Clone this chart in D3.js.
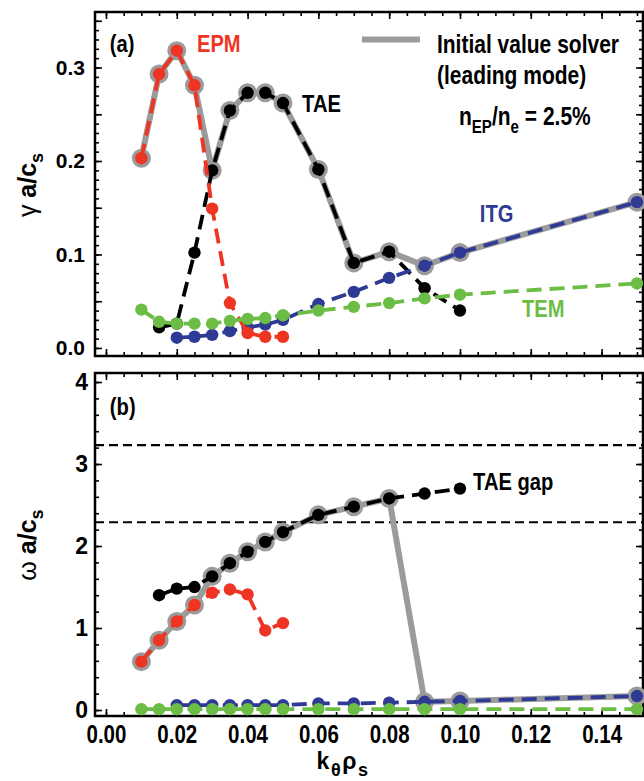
<!DOCTYPE html>
<html>
<head>
<meta charset="utf-8">
<script src="https://cdn.jsdelivr.net/npm/d3@7"></script>
<style>
  body { margin: 0; background: #fff; }
  svg { display: block; }
  text { font-family: "Liberation Sans", Arial, Helvetica, sans-serif; font-weight: bold; }
</style>
</head>
<body>
<svg id="chart" width="644" height="781"></svg>
<script>
// k_theta rho_s values for each branch
const kEPM = [0.01, 0.015, 0.02, 0.025, 0.03, 0.035, 0.04, 0.045, 0.05];
const kTAE = [0.015, 0.02, 0.025, 0.03, 0.035, 0.04, 0.045, 0.05, 0.06, 0.07, 0.08, 0.09, 0.10];
const kITG = [0.02, 0.025, 0.03, 0.035, 0.04, 0.045, 0.05, 0.06, 0.07, 0.08, 0.09, 0.10, 0.15];
const kTEM = [0.01, 0.015, 0.02, 0.025, 0.03, 0.035, 0.04, 0.045, 0.05, 0.06, 0.07, 0.08, 0.09, 0.10, 0.15];

// growth rate gamma a/c_s (panel a)
const gammaEPM = [0.203, 0.293, 0.318, 0.281, 0.149, 0.048, 0.016, 0.012, 0.012];
const gammaTAE = [0.022, 0.026, 0.102, 0.190, 0.254, 0.273, 0.273, 0.262, 0.191, 0.091, 0.103, 0.064, 0.040];
const gammaITG = [0.011, 0.012, 0.014, 0.018, 0.022, 0.025, 0.030, 0.047, 0.060, 0.075, 0.088, 0.102, 0.156];
const gammaTEM = [0.041, 0.028, 0.026, 0.026, 0.026, 0.029, 0.031, 0.032, 0.035, 0.040, 0.044, 0.048, 0.053, 0.057, 0.069];

// real frequency omega a/c_s (panel b)
const omegaEPM = [0.59, 0.85, 1.08, 1.28, 1.43, 1.47, 1.41, 0.97, 1.06];
const omegaTAE = [1.40, 1.48, 1.50, 1.63, 1.79, 1.93, 2.05, 2.17, 2.38, 2.48, 2.58, 2.64, 2.70];
const omegaITG = [0.06, 0.06, 0.06, 0.06, 0.06, 0.06, 0.06, 0.08, 0.08, 0.09, 0.10, 0.11, 0.17];
const omegaTEM = [0.01, 0.01, 0.01, 0.01, 0.01, 0.01, 0.01, 0.01, 0.01, 0.01, 0.01, 0.01, 0.01, 0.01, 0.01];

// which k values the initial value solver picks from each branch (leading mode)
const leadEPM = [0.01, 0.015, 0.02, 0.025];
const leadTAE = [0.03, 0.035, 0.04, 0.045, 0.05, 0.06, 0.07, 0.08];
const leadITG = [0.09, 0.10, 0.15];

// TAE gap boundaries (panel b)
const gapEdges = [2.29, 3.23];

const xTicks = [0, 0.02, 0.04, 0.06, 0.08, 0.10, 0.12, 0.14];
const yTicksA = [0, 0.1, 0.2, 0.3];
const yTicksB = [0, 1, 2, 3, 4];

const COLORS = { EPM: '#ee3524', TAE: '#000000', ITG: '#2e3a94', TEM: '#6cbd45' };
const GRAY = '#9b9b9b';
const SQUEEZE = 0.84; // the figure uses a condensed face

const svg = d3.select('#chart');

const x = d3.scaleLinear().domain([-0.0031, 0.1517]).range([95, 643]);
const yA = d3.scaleLinear().domain([-0.0086, 0.3594]).range([356, 12]);
const yB = d3.scaleLinear().domain([-0.073, 4.11]).range([716, 373]);

const series = (ks, vs) => ks.map((k, i) => [k, vs[i]]);

const A = {
    EPM: series(kEPM, gammaEPM), TAE: series(kTAE, gammaTAE),
    ITG: series(kITG, gammaITG), TEM: series(kTEM, gammaTEM)
};
const B = {
    EPM: series(kEPM, omegaEPM), TAE: series(kTAE, omegaTAE),
    ITG: series(kITG, omegaITG), TEM: series(kTEM, omegaTEM)
};

function leading(set) {
    const pick = (pts, ks) => pts.filter(p => ks.some(k => Math.abs(k - p[0]) < 1e-9));
    return [...pick(set.EPM, leadEPM), ...pick(set.TAE, leadTAE), ...pick(set.ITG, leadITG)];
}

function range(a, b, step) {
    const out = [];
    for (let v = a; v <= b + 1e-9; v += step) out.push(+v.toFixed(6));
    return out;
}

// compress text horizontally around its anchor point
function squeeze(sel, k) {
    sel.each(function () {
        const t = d3.select(this);
        const tx = +t.attr('x') || 0, ty = +t.attr('y') || 0;
        const prev = t.attr('transform') || '';
        t.attr('x', 0).attr('y', 0)
            .attr('transform', `${prev} translate(${tx},${ty}) scale(${k},1)`);
    });
}

function frameAndTicks(y, minorStep, majorStep, labels, showX) {
    const [y0, y1] = y.domain();
    const g = svg.append('g');

    const mk = (axisFn, scale, values, len, pos) => {
        const a = axisFn(scale).tickValues(values).tickSizeInner(-len).tickSizeOuter(0).tickFormat('');
        const gg = g.append('g').attr('transform', pos).call(a);
        gg.select('.domain').remove();
        gg.selectAll('line').attr('stroke', '#000').attr('stroke-width', 1.6);
    };

    const xMinor = range(0, 0.15, 0.005);
    const xMajor = range(0, 0.14, 0.02);
    const yMinor = range(Math.ceil(y0 / minorStep) * minorStep, y1, minorStep);
    const yMajor = range(Math.ceil(y0 / majorStep) * majorStep, y1, majorStep);

    const bottom = y.range()[0], top = y.range()[1];
    const left = x.range()[0], right = x.range()[1];

    mk(d3.axisBottom, x, xMinor, 4, `translate(0,${bottom})`);
    mk(d3.axisBottom, x, xMajor, 7, `translate(0,${bottom})`);
    mk(d3.axisTop, x, xMinor, 4, `translate(0,${top})`);
    mk(d3.axisTop, x, xMajor, 7, `translate(0,${top})`);
    mk(d3.axisLeft, y, yMinor, 4, `translate(${left},0)`);
    mk(d3.axisLeft, y, yMajor, 7, `translate(${left},0)`);
    mk(d3.axisRight, y, yMinor, 4, `translate(${right},0)`);
    mk(d3.axisRight, y, yMajor, 7, `translate(${right},0)`);

    // tick labels on the left
    const lab = g.append('g').attr('transform', `translate(${left},0)`)
        .call(d3.axisLeft(y).tickValues(labels.values).tickSize(0).tickPadding(labels.pad)
            .tickFormat(labels.fmt));
    lab.select('.domain').remove();
    lab.selectAll('text').attr('font-size', labels.size).attr('fill', '#000')
        .style('font-family', '"Liberation Sans", Arial, sans-serif').style('font-weight', 'bold');
    squeeze(lab.selectAll('text'), labels.squeeze);

    if (showX) {
        const xl = g.append('g').attr('transform', `translate(0,${bottom})`)
            .call(d3.axisBottom(x).tickValues(xTicks).tickSize(0).tickPadding(9)
                .tickFormat(d3.format('.2f')));
        xl.select('.domain').remove();
        xl.selectAll('text').attr('font-size', 25).attr('fill', '#000')
            .style('font-family', '"Liberation Sans", Arial, sans-serif').style('font-weight', 'bold');
        squeeze(xl.selectAll('text'), 0.82);
    }

    g.append('rect')
        .attr('x', left).attr('y', top)
        .attr('width', right - left).attr('height', bottom - top)
        .attr('fill', 'none').attr('stroke', '#000').attr('stroke-width', 2.5);
}

function drawPanel(set, y) {
    const g = svg.append('g');
    const line = d3.line().x(d => x(d[0])).y(d => y(d[1]));
    const lead = leading(set);

    // leading mode path underneath
    g.append('path').datum(lead).attr('d', line)
        .attr('fill', 'none').attr('stroke', GRAY).attr('stroke-width', 6)
        .attr('stroke-linejoin', 'round');
    g.selectAll('circle.ring').data(lead).join('circle').attr('class', 'ring')
        .attr('cx', d => x(d[0])).attr('cy', d => y(d[1])).attr('r', 9.5).attr('fill', GRAY);

    ['TAE', 'ITG', 'EPM', 'TEM'].forEach(name => {
        const pts = set[name];
        g.append('path').datum(pts).attr('d', line)
            .attr('fill', 'none').attr('stroke', COLORS[name]).attr('stroke-width', 3.8)
            .attr('stroke-dasharray', '15,8');
        g.selectAll(`circle.${name}`).data(pts).join('circle').attr('class', name)
            .attr('cx', d => x(d[0])).attr('cy', d => y(d[1])).attr('r', 6.2)
            .attr('fill', COLORS[name]);
    });
    return g;
}

function label(txt, px, py, color, size) {
    const t = svg.append('text').attr('x', px).attr('y', py)
        .attr('fill', color || '#000').attr('font-size', size || 24).text(txt);
    return t;
}

// ---- panel (a)
frameAndTicks(yA, 0.01, 0.05, { values: yTicksA, pad: 10, size: 21, squeeze: 1, fmt: d3.format('.1f') }, false);
drawPanel(A, yA);

const annotations = [];
annotations.push(label('(a)', x(0.0011), yA(0.3166)));
annotations.push(label('EPM', x(0.0257), yA(0.3166), COLORS.EPM));
annotations.push(label('TAE', x(0.0554), yA(0.252)));
annotations.push(label('ITG', x(0.1056), yA(0.135), COLORS.ITG));
annotations.push(label('TEM', x(0.1175), yA(0.033), COLORS.TEM));

svg.append('line')
    .attr('x1', x(0.0723)).attr('x2', x(0.0887))
    .attr('y1', yA(0.330)).attr('y2', yA(0.330))
    .attr('stroke', GRAY).attr('stroke-width', 6);
annotations.push(label('Initial value solver', x(0.0935), yA(0.3155), '#000', 25));
annotations.push(label('(leading mode)', x(0.0935), yA(0.282), '#000', 25));

const ne = label('', x(0.0997), yA(0.2385), '#000', 25);
ne.append('tspan').text('n');
ne.append('tspan').attr('font-size', 18).attr('dy', 8).text('EP');
ne.append('tspan').attr('dy', -8).text('/n');
ne.append('tspan').attr('font-size', 18).attr('dy', 8).text('e');
ne.append('tspan').attr('dy', -8).text(' = 2.5%');
annotations.push(ne);

// ---- panel (b)
frameAndTicks(yB, 0.2, 1, { values: yTicksB, pad: 7, size: 23, squeeze: 1, fmt: d3.format('d') }, true);

svg.append('g').selectAll('line').data(gapEdges).join('line')
    .attr('x1', x.range()[0]).attr('x2', x.range()[1])
    .attr('y1', d => yB(d)).attr('y2', d => yB(d))
    .attr('stroke', '#000').attr('stroke-width', 2.2).attr('stroke-dasharray', '9,5');

drawPanel(B, yB);

annotations.push(label('(b)', x(0.0011), yB(3.60)));
annotations.push(label('TAE gap', x(0.1037), yB(2.68)));

annotations.forEach(t => squeeze(t, SQUEEZE));

// ---- axis titles
const xt = svg.append('text').attr('x', 343).attr('y', 769)
    .attr('text-anchor', 'middle').attr('font-size', 23).attr('letter-spacing', 1.5);
xt.append('tspan').text('k');
xt.append('tspan').attr('font-size', 18).attr('dy', 7).text('θ');
xt.append('tspan').attr('dy', -7).text('ρ');
xt.append('tspan').attr('font-size', 18).attr('dy', 7).text('s');

function yTitle(greek, cy) {
    const t = svg.append('text').attr('transform', `translate(36,${cy}) rotate(-90)`)
        .attr('text-anchor', 'middle').attr('font-size', 25);
    t.append('tspan').attr('font-weight', 'normal').text(greek);
    t.append('tspan').text(' a/c');
    t.append('tspan').attr('font-size', 18).attr('dy', 7).text('s');
}
yTitle('γ', 185);
yTitle('ω', 545);
</script>
</body>
</html>
